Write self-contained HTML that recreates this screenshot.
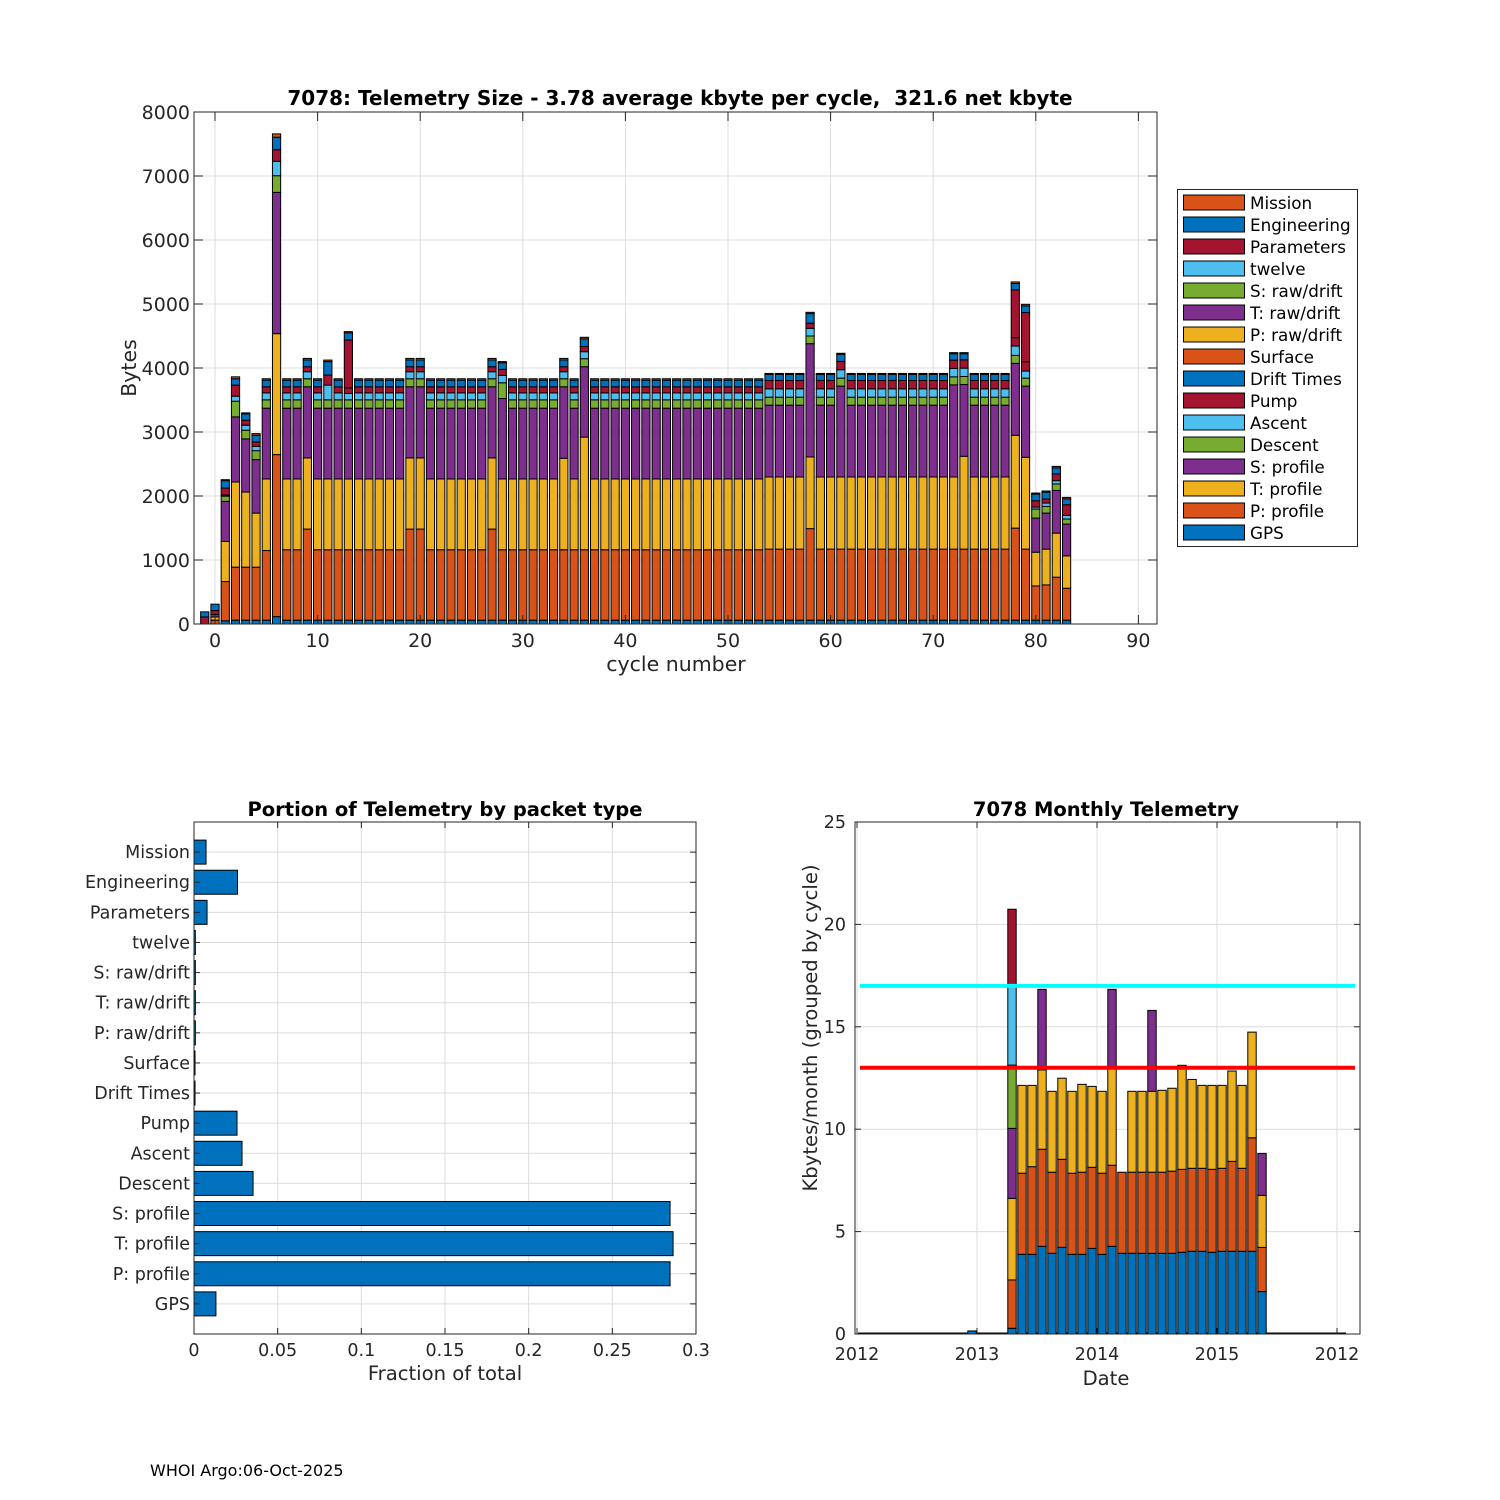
<!DOCTYPE html>
<html><head><meta charset="utf-8"><style>
html,body{margin:0;padding:0;background:#fff;}
svg{display:block;font-family:"DejaVu Sans","Liberation Sans",sans-serif;}
.tk{font-size:17.5px;fill:#262626;}
.tkt{font-size:19px;fill:#262626;}
.ttl{font-size:19.5px;font-weight:bold;fill:#000;white-space:pre;}
.ttlt{font-size:20px;font-weight:bold;fill:#000;white-space:pre;}
.lbl{font-size:19.6px;fill:#262626;}
.lblt{font-size:20.5px;fill:#262626;}
.lg{font-size:16.8px;fill:#000;}
</style></head><body>
<svg id="fig" width="1500" height="1500" viewBox="0 0 1500 1500">
<rect width="1500" height="1500" fill="#fff"/>
<g id="top"></g>
<g id="bl"></g>
<g id="br"></g>
<text x="150" y="1476" font-size="16" fill="#000">WHOI Argo:06-Oct-2025</text>
</svg>
<script>
// ---------- Top chart data (cycles -1..83) ----------
const cycles = [-1,0,1,2,3,4,5,6,7,8,9,10,11,12,13,14,15,16,17,18,19,20,21,22,23,24,25,26,27,28,29,30,31,32,33,34,35,36,37,38,39,40,41,42,43,44,45,46,47,48,49,50,51,52,53,54,55,56,57,58,59,60,61,62,63,64,65,66,67,68,69,70,71,72,73,74,75,76,77,78,79,80,81,82,83];
const seriesNames = ["GPS","P: profile","T: profile","S: profile","Descent","Ascent","Pump","Drift Times","Surface","P: raw/drift","T: raw/drift","S: raw/drift","twelve","Parameters","Engineering","Mission"];
const seriesColors = ["#0072BD","#D95319","#EDB120","#7E2F8E","#77AC30","#4DBEEE","#A2142F","#0072BD","#D95319","#EDB120","#7E2F8E","#77AC30","#4DBEEE","#A2142F","#0072BD","#D95319"];
const gps = [0,0,50,60,60,60,60,115,60,60, 60,60,60,60,60,60,60,60,60,60, 60,60,60,60,60,60,60,60,60,60, 60,60,60,60,60,60,60,60,60,60, 60,60,60,60,60,60,60,60,60,60, 60,60,60,60,60,60,60,60,60,60, 60,60,60,60,60,60,60,60,60,60, 60,60,60,60,60,60,60,60,60,60, 60,60,60,60,60];
const pProf = [0,60,613,828,828,828,1088,2532,1100,1100, 1423,1100,1100,1100,1100,1100,1100,1100,1100,1100, 1423,1423,1100,1100,1100,1100,1100,1100,1423,1100, 1100,1100,1100,1100,1100,1100,1100,1100,1100,1100, 1100,1100,1100,1100,1100,1100,1100,1100,1100,1100, 1100,1100,1100,1100,1100,1110,1110,1110,1110,1430, 1110,1110,1110,1110,1110,1110,1110,1110,1110,1110, 1110,1110,1110,1110,1110,1110,1110,1110,1110,1438, 1110,535,551,671,499];
const tProf = [0,50,627,1331,1174,845,1118,1890,1106,1106, 1112,1106,1106,1106,1106,1106,1106,1106,1106,1106, 1112,1112,1106,1106,1106,1106,1106,1106,1112,1106, 1106,1106,1106,1106,1106,1430,1106,1760,1106,1106, 1106,1106,1106,1106,1106,1106,1106,1106,1106,1106, 1106,1106,1106,1106,1106,1127,1127,1127,1127,1120, 1127,1127,1127,1127,1127,1127,1127,1127,1127,1127, 1127,1127,1127,1127,1450,1127,1127,1127,1127,1451, 1435,527,559,689,506];
const sProf = [0,40,626,1017,830,835,1106,2207,1106,1106, 1112,1106,1106,1106,1106,1106,1106,1106,1106,1106, 1112,1112,1106,1106,1106,1106,1106,1106,1112,1257, 1106,1106,1106,1106,1106,1117,1106,1100,1106,1106, 1106,1106,1106,1106,1106,1106,1106,1106,1106,1106, 1106,1106,1106,1106,1106,1122,1122,1122,1122,1770, 1122,1122,1420,1122,1122,1122,1122,1122,1122,1122, 1122,1122,1122,1440,1122,1122,1122,1122,1122,1123, 1112,533,563,667,496];
const descent = [0,0,82,245,136,141,131,261,131,131, 125,131,131,131,131,131,131,131,131,131, 125,125,131,131,131,131,131,131,125,246, 131,131,131,131,131,125,131,125,131,131, 131,131,131,131,131,131,131,131,131,131, 131,131,131,131,131,125,125,125,125,120, 125,125,125,125,125,125,125,125,125,125, 125,125,125,125,125,125,125,125,125,125, 125,141,104,101,79];
const ascent = [0,0,17,79,78,68,109,225,109,109, 110,109,230,109,99,109,109,109,109,109, 110,110,109,109,109,109,109,109,110,115, 109,109,109,109,109,110,109,110,109,109, 109,109,109,109,109,109,109,109,109,109, 109,109,109,109,109,131,131,131,131,120, 131,131,131,131,131,131,131,131,131,131, 131,131,131,131,131,131,131,131,131,146, 110,31,53,52,57];
const pump = [0,0,109,173,78,68,94,182,94,94, 78,94,157,94,88,94,94,94,94,94, 78,78,94,94,94,94,94,94,78,94, 94,94,94,94,94,78,94,80,94,94, 94,94,94,94,94,94,94,94,94,94, 94,94,94,94,94,130,130,130,130,80, 130,130,130,130,130,130,130,130,130,130, 130,130,130,130,130,130,130,130,130,131, 146,99,63,104,167];
const drift = [0,0,0,0,0,0,0,0,0,0, 0,0,0,0,0,0,0,0,0,0, 0,0,0,0,0,0,0,0,0,0, 0,0,0,0,0,0,0,0,0,0, 0,0,0,0,0,0,0,0,0,0, 0,0,0,0,0,0,0,0,0,0, 0,0,0,0,0,0,0,0,0,0, 0,0,0,0,0,0,0,0,0,0, 0,0,0,0,0];
const surface = [0,0,0,0,0,0,0,0,0,0, 0,0,0,0,0,0,0,0,0,0, 0,0,0,0,0,0,0,0,0,0, 0,0,0,0,0,0,0,0,0,0, 0,0,0,0,0,0,0,0,0,0, 0,0,0,0,0,0,0,0,0,0, 0,0,0,0,0,0,0,0,0,0, 0,0,0,0,0,0,0,0,0,0, 0,0,0,0,0];
const pRaw = [0,0,0,0,0,0,0,0,0,0, 0,0,0,0,0,0,0,0,0,0, 0,0,0,0,0,0,0,0,0,0, 0,0,0,0,0,0,0,0,0,0, 0,0,0,0,0,0,0,0,0,0, 0,0,0,0,0,0,0,0,0,0, 0,0,0,0,0,0,0,0,0,0, 0,0,0,0,0,0,0,0,0,0, 0,0,0,0,0];
const tRaw = [0,0,0,0,0,0,0,0,0,0, 0,0,0,0,0,0,0,0,0,0, 0,0,0,0,0,0,0,0,0,0, 0,0,0,0,0,0,0,0,0,0, 0,0,0,0,0,0,0,0,0,0, 0,0,0,0,0,0,0,0,0,0, 0,0,0,0,0,0,0,0,0,0, 0,0,0,0,0,0,0,0,0,0, 0,0,0,0,0];
const sRaw = [0,0,0,0,0,0,0,0,0,0, 0,0,0,0,0,0,0,0,0,0, 0,0,0,0,0,0,0,0,0,0, 0,0,0,0,0,0,0,0,0,0, 0,0,0,0,0,0,0,0,0,0, 0,0,0,0,0,0,0,0,0,0, 0,0,0,0,0,0,0,0,0,0, 0,0,0,0,0,0,0,0,0,0, 0,0,0,0,0];
const twelve = [0,0,0,0,0,0,0,0,0,0, 0,0,0,0,0,0,0,0,0,0, 0,0,0,0,0,0,0,0,0,0, 0,0,0,0,0,0,0,0,0,0, 0,0,0,0,0,0,0,0,0,0, 0,0,0,0,0,0,0,0,0,0, 0,0,0,0,0,0,0,0,0,0, 0,0,0,0,0,0,0,0,0,0, 0,0,0,0,0];
const params = [110,60,0,0,0,0,0,0,0,0, 0,0,0,0,747,0,0,0,0,0, 0,0,0,0,0,0,0,0,0,0, 0,0,0,0,0,0,0,0,0,0, 0,0,0,0,0,0,0,0,0,0, 0,0,0,0,0,0,0,0,0,0, 0,0,0,0,0,0,0,0,0,0, 0,0,0,0,0,0,0,0,0,746, 768,0,0,0,0];
const eng = [80,100,116,99,99,105,104,194,104,104, 105,104,210,104,113,104,104,104,104,104, 105,105,104,104,104,104,104,104,105,104, 104,104,104,104,104,105,104,120,104,104, 104,104,104,104,104,104,104,104,104,104, 104,104,104,104,104,95,95,95,95,150, 95,95,110,95,95,95,95,95,95,95, 95,95,95,100,95,95,95,95,95,100, 104,104,107,96,91];
const mission = [0,0,15,30,16,25,22,52,22,22, 25,22,24,22,18,22,22,22,22,22, 25,25,22,22,22,22,22,22,25,18, 22,22,22,22,22,25,22,25,22,22, 22,22,22,22,22,22,22,22,22,22, 22,22,22,22,22,15,15,15,15,20, 15,15,17,15,15,15,15,15,15,15, 15,15,15,17,17,15,15,15,15,25, 25,16,18,23,23];
const topXTicks = [0,10,20,30,40,50,60,70,80,90];
const topYTicks = [0,1000,2000,3000,4000,5000,6000,7000,8000];

// ---------- Bottom-left data ----------
const portionCats = ["GPS","P: profile","T: profile","S: profile","Descent","Ascent","Pump","Drift Times","Surface","P: raw/drift","T: raw/drift","S: raw/drift","twelve","Parameters","Engineering","Mission"];
const portionVals = [0.0131,0.2845,0.2863,0.2845,0.0353,0.0287,0.0257,0.0006,0.0006,0.0008,0.0008,0.0008,0.0008,0.0078,0.026,0.0072];
const portionTicks = [0,0.05,0.1,0.15,0.2,0.25,0.3];
const portionTickLabels = ["0","0.05","0.1","0.15","0.2","0.25","0.3"];

// ---------- Bottom-right data (month index from Jan 2012) ----------
const monthIdx = [11,15,16,17,18,19,20,21,22,23,24,25,26,27,28,29,30,31,32,33,34,35,36,37,38,39,40];
const mBlue   = [0.15,0.28,3.89,3.89,4.28,3.94,4.23,3.89,3.89,4.18,3.89,4.28,3.94,3.94,3.94,3.94,3.94,3.94,3.99,4.04,4.04,3.99,4.04,4.04,4.04,4.04,2.07];
const mOrange = [0,2.36,3.96,4.28,4.74,3.96,4.30,3.96,4.01,3.96,3.96,3.96,3.96,3.96,3.96,3.96,3.96,4.01,4.05,4.05,4.05,4.05,4.05,4.39,4.05,5.54,2.16];
const mYellow = [0,3.98,4.29,3.97,3.88,3.95,3.96,4.00,4.29,3.95,4.00,4.76,0,3.95,3.95,3.95,4.00,4.05,5.08,4.34,4.05,4.10,4.05,4.41,4.05,5.16,2.54];
const mPurple = [0,3.42,0,0,3.93,0,0,0,0,0,0,3.83,0,0,0,3.95,0,0,0,0,0,0,0,0,0,0,2.05];
const mGreen  = [0,3.09,0,0,0,0,0,0,0,0,0,0,0,0,0,0,0,0,0,0,0,0,0,0,0,0,0];
const mLight  = [0,3.91,0,0,0,0,0,0,0,0,0,0,0,0,0,0,0,0,0,0,0,0,0,0,0,0,0];
const mRed    = [0,3.70,0,0,0,0,0,0,0,0,0,0,0,0,0,0,0,0,0,0,0,0,0,0,0,0,0];
const monthColors = ["#0072BD","#D95319","#EDB120","#7E2F8E","#77AC30","#4DBEEE","#A2142F"];
const dateTicks = [2012,2013,2014,2015,2016];
const dateTickLabels = ["2012","2013","2014","2015","2012"];
const monthYTicks = [0,5,10,15,20,25];
const refLines = [17,13];
const refColors = ["#00FFFF","#FF0000"];

const NS="http://www.w3.org/2000/svg";
function mk(parent,tag,attrs){const e=document.createElementNS(NS,tag);for(const k in attrs)e.setAttribute(k,attrs[k]);parent.appendChild(e);return e;}
function txt(parent,x,y,s,cls,anchor,extra){const t=mk(parent,"text",Object.assign({x:x,y:y,class:cls,"text-anchor":anchor||"middle"},extra||{}));t.textContent=s;return t;}

// ===== TOP =====
(function(){
  const g=document.getElementById("top");
  const L=194,R=1157,T=112,B=624;
  const xs=c=>215+c*10.26, ys=v=>B-v*(B-T)/8000;
  const series=[gps,pProf,tProf,sProf,descent,ascent,pump,drift,surface,pRaw,tRaw,sRaw,twelve,params,eng,mission];
  topXTicks.forEach(t=>{mk(g,"line",{x1:xs(t),x2:xs(t),y1:T,y2:B,stroke:"#dcdcdc","stroke-width":1});});
  topYTicks.forEach(t=>{mk(g,"line",{x1:L,x2:R,y1:ys(t),y2:ys(t),stroke:"#dcdcdc","stroke-width":1});});
  cycles.forEach((c,i)=>{
    let base=0;
    series.forEach((s,k)=>{
      const v=s[i]; if(!v) return;
      const r=mk(g,"rect",{x:xs(c)-4.1,y:ys(base+v),width:8.2,height:ys(base)-ys(base+v),fill:seriesColors[k],stroke:"#000","stroke-width":1});
      
      
      base+=v;
    });
  });
  mk(g,"rect",{x:L,y:T,width:R-L,height:B-T,fill:"none",stroke:"#262626","stroke-width":1});
  topXTicks.forEach(t=>{
    mk(g,"line",{x1:xs(t),x2:xs(t),y1:B,y2:B-9,stroke:"#262626"});
    mk(g,"line",{x1:xs(t),x2:xs(t),y1:T,y2:T+9,stroke:"#262626"});
    const e=txt(g,xs(t),B+23,String(t),"tkt");
    
    
  });
  topYTicks.forEach(t=>{
    mk(g,"line",{x1:L,x2:L+9,y1:ys(t),y2:ys(t),stroke:"#262626"});
    mk(g,"line",{x1:R,x2:R-9,y1:ys(t),y2:ys(t),stroke:"#262626"});
    const e=txt(g,L-4,ys(t)+7,String(t),"tkt","end");
    
    
  });
  let e=txt(g,680,105,"7078: Telemetry Size - 3.78 average kbyte per cycle,  321.6 net kbyte","ttlt");
  
  
  e=txt(g,676,671,"cycle number","lblt");
  
  
  e=txt(g,136,368,"Bytes","lblt","middle",{transform:"rotate(-90 136 368)"});
  
  
  // legend
  const lg=mk(g,"g",{});
  
  
  mk(lg,"rect",{x:1177.5,y:189.5,width:180,height:357,fill:"#fff",stroke:"#262626"});
  for(let k=15;k>=0;k--){
    const row=15-k, y=195+row*22;
    const it=mk(lg,"g",{});
    
    
    mk(it,"rect",{x:1183.5,y:y,width:61,height:15,fill:seriesColors[k],stroke:"#000"});
    txt(it,1250,y+14,seriesNames[k],"lg","start");
  }
})();

// ===== BOTTOM LEFT =====
(function(){
  const g=document.getElementById("bl");
  const L=194,R=696,T=822,B=1334;
  const xs=v=>L+v*(R-L)/0.3, ys=i=>B-(i+1)*(B-T)/17;
  portionTicks.forEach(t=>mk(g,"line",{x1:xs(t),x2:xs(t),y1:T,y2:B,stroke:"#dcdcdc"}));
  portionCats.forEach((c,i)=>mk(g,"line",{x1:L,x2:R,y1:ys(i),y2:ys(i),stroke:"#dcdcdc"}));
  portionVals.forEach((v,i)=>{
    const r=mk(g,"rect",{x:L,y:ys(i)-12,width:xs(v)-L,height:24,fill:"#0072BD",stroke:"#000","stroke-width":1});
    
    
  });
  mk(g,"rect",{x:L,y:T,width:R-L,height:B-T,fill:"none",stroke:"#262626"});
  portionTicks.forEach((t,i)=>{
    mk(g,"line",{x1:xs(t),x2:xs(t),y1:B,y2:B-6,stroke:"#262626"});
    mk(g,"line",{x1:xs(t),x2:xs(t),y1:T,y2:T+6,stroke:"#262626"});
    const e=txt(g,xs(t),B+22,portionTickLabels[i],"tk");
    
    
  });
  portionCats.forEach((c,i)=>{
    mk(g,"line",{x1:L,x2:L+6,y1:ys(i),y2:ys(i),stroke:"#262626"});
    mk(g,"line",{x1:R,x2:R-6,y1:ys(i),y2:ys(i),stroke:"#262626"});
    const e=txt(g,L-4,ys(i)+6,c,"tk","end");
    
    
  });
  let e=txt(g,445,816,"Portion of Telemetry by packet type","ttl");
  
  
  e=txt(g,445,1380,"Fraction of total","lbl");
  
  
})();

// ===== BOTTOM RIGHT =====
(function(){
  const g=document.getElementById("br");
  const L=855,R=1360,T=822,B=1334;
  const xd=yr=>857+(yr-2012)*120, ys=v=>B-v*(B-T)/25;
  const xm=i=>xd(2012+(i+0.5)/12);
  dateTicks.forEach(t=>mk(g,"line",{x1:xd(t),x2:xd(t),y1:T,y2:B,stroke:"#dcdcdc"}));
  monthYTicks.forEach(t=>mk(g,"line",{x1:L,x2:R,y1:ys(t),y2:ys(t),stroke:"#dcdcdc"}));
  mk(g,"line",{x1:xm(0)-4,x2:xm(48)+4,y1:B-0.5,y2:B-0.5,stroke:"#000","stroke-width":2});
  const ms=[mBlue,mOrange,mYellow,mPurple,mGreen,mLight,mRed];
  monthIdx.forEach((m,i)=>{
    let base=0;
    ms.forEach((s,k)=>{
      const v=s[i]; if(!v) return;
      const r=mk(g,"rect",{x:xm(m)-4.2,y:ys(base+v),width:8.4,height:ys(base)-ys(base+v),fill:monthColors[k],stroke:"#000","stroke-width":1});
      
      
      base+=v;
    });
  });
  refLines.forEach((v,i)=>{
    const l=mk(g,"line",{x1:860,x2:1355,y1:ys(v),y2:ys(v),stroke:refColors[i],"stroke-width":4});
    
    
  });
  mk(g,"rect",{x:L,y:T,width:R-L,height:B-T,fill:"none",stroke:"#262626"});
  dateTicks.forEach((t,i)=>{
    mk(g,"line",{x1:xd(t),x2:xd(t),y1:B,y2:B-6,stroke:"#262626"});
    mk(g,"line",{x1:xd(t),x2:xd(t),y1:T,y2:T+6,stroke:"#262626"});
    const e=txt(g,xd(t),B+26,dateTickLabels[i],"tk");
    
    
  });
  monthYTicks.forEach(t=>{
    mk(g,"line",{x1:L,x2:L+6,y1:ys(t),y2:ys(t),stroke:"#262626"});
    mk(g,"line",{x1:R,x2:R-6,y1:ys(t),y2:ys(t),stroke:"#262626"});
    const e=txt(g,L-9,ys(t)+6,String(t),"tk","end");
    
    
  });
  let e=txt(g,1106,816,"7078 Monthly Telemetry","ttl");
  
  
  e=txt(g,1106,1385,"Date","lbl");
  
  
  e=txt(g,817,1028,"Kbytes/month (grouped by cycle)","lbl","middle",{transform:"rotate(-90 817 1028)"});
  
  
})();
</script>
</body></html>
